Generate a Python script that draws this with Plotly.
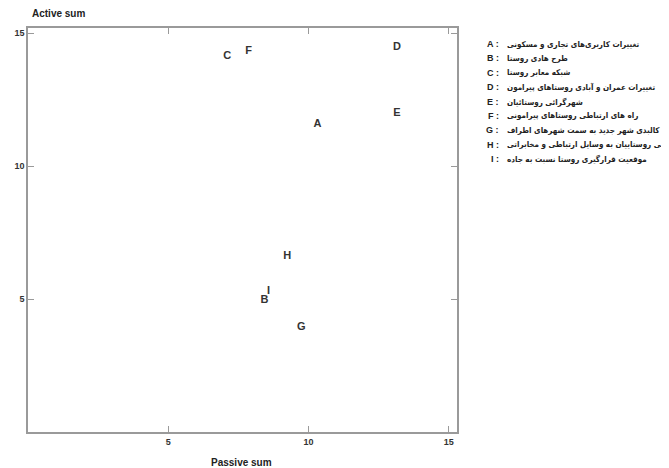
import plotly.graph_objects as go

# Data
labels = ["A", "B", "C", "D", "E", "F", "G", "H", "I"]
passive_sum = [10.32, 8.43, 7.10, 13.15, 13.15, 7.86, 9.74, 9.24, 8.57]
active_sum = [11.57, 4.94, 14.14, 14.48, 11.98, 14.33, 3.93, 6.62, 5.28]
descriptions = [
    "تغییرات کاربری‌های تجاری و مسکونی",
    "طرح هادی روستا",
    "شبکه معابر روستا",
    "تغییرات عمران و آبادی روستاهای پیرامون",
    "شهرگرائی روستائیان",
    "راه های ارتباطی روستاهای پیرامونی",
    "گسترش کالبدی شهر جدید به سمت شهرهای اطراف",
    "دسترسی روستاییان به وسایل ارتباطی و مخابراتی",
    "موقعیت قرارگیری روستا نسبت به جاده",
]
tick_vals = [5, 10, 15]

OFF = 8  # page body margin in the browser
W, H = 669 - OFF, 468 - OFF
ML, MR, MT, MB = 28 - OFF, 212, 28 - OFF, 36
PW = W - ML - MR
PH = H - MT - MB


def px_x(px):
    return (px - OFF - ML) / PW


def px_y(py):
    return (H - MB - (py - OFF)) / PH


fig = go.Figure()
fig.add_trace(go.Scatter(
    x=passive_sum, y=active_sum, text=labels, mode="text",
    textposition="middle center",
    textfont=dict(family="Liberation Sans, Arial", size=11, color="#333333", weight="bold"),
    hoverinfo="skip", showlegend=False,
))

axis_common = dict(
    showline=True, linecolor="#9a9a9a", linewidth=1.5, mirror="ticks",
    ticks="inside", ticklen=6, tickwidth=1, tickcolor="#9a9a9a",
    showgrid=False, zeroline=False, tickvals=tick_vals, automargin=False,
    tickfont=dict(family="Liberation Sans, Arial", size=9, color="#333333", weight="bold"),
)
fig.update_xaxes(range=[0, 15.29], **axis_common)
fig.update_yaxes(range=[0, 15.19], **axis_common)

annotations = []
annotations.append(dict(
    text="Active sum", xref="paper", yref="paper",
    x=px_x(30), y=px_y(14), xanchor="left", yanchor="middle",
    showarrow=False,
    font=dict(family="Liberation Sans, Arial", size=10, color="#222222", weight="bold"),
))
annotations.append(dict(
    text="Passive sum", xref="paper", yref="paper",
    x=px_x(241), y=px_y(462), xanchor="center", yanchor="middle",
    showarrow=False,
    font=dict(family="Liberation Sans, Arial", size=10, color="#222222", weight="bold"),
))
row_y0, row_dy = 44, 14.4
for i, (lab, desc) in enumerate(zip(labels, descriptions)):
    yp = px_y(row_y0 + i * row_dy)
    annotations.append(dict(
        text=lab + " :", xref="paper", yref="paper",
        x=px_x(501), y=yp, xanchor="right", yanchor="middle",
        showarrow=False,
        font=dict(family="Liberation Sans, Arial", size=9, color="#222222", weight="bold"),
    ))
    annotations.append(dict(
        text=desc, xref="paper", yref="paper",
        x=px_x(505), y=yp, xanchor="left", yanchor="middle", align="left",
        showarrow=False,
        font=dict(family="DejaVu Sans Condensed, DejaVu Sans", size=8, color="#222222", weight="bold"),
    ))

fig.update_layout(
    width=W, height=H,
    margin=dict(l=ML, r=MR, t=MT, b=MB, autoexpand=False),
    paper_bgcolor="white", plot_bgcolor="white",
    annotations=annotations,
    showlegend=False,
)

fig.write_html("out.html")
